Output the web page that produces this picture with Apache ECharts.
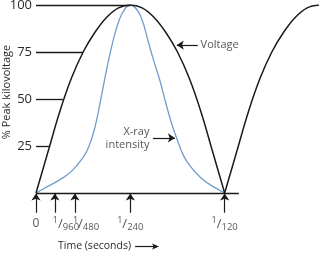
<!DOCTYPE html>
<html><head><meta charset="utf-8">
<script src="https://cdn.jsdelivr.net/npm/echarts@6/dist/echarts.min.js"></script>
<style>html,body{margin:0;padding:0;background:#fff}#c{width:319px;height:254px}</style>
</head><body><div id="c"></div>
<script>
// time in units of 1/960 s
const timeX   = [0,0.5,1,1.5,2,2.5,3,3.5,4,4.5,5,5.5,6,6.5,7,7.5,8,8.5,9,9.5,10,10.5,11,11.5,12];
const voltage = [0,21.5,43,61,75,85.5,93.5,98.5,100,98.5,93.5,85.5,75,61,43,21.5,0,21.5,43,61,75,85.5,93.5,98.5,100];
const xrayX   = [0,0.5,1,1.5,2,2.25,2.5,2.75,3,3.25,3.5,3.75,4,4.25,4.5,4.75,5,5.25,5.5,5.75,6,6.25,6.5,7,7.5,8];
const xray    = [0,3.5,7,11.5,19,25,35,50,66,80,91,97.5,100,98,92,81,70,60,48,37,28,20,15,8,3.5,0];
const yTicks  = [25,50,75,100];
const yTickEnds = [0.57,1.14,2.0,4.0];          // where each level line meets the voltage curve
const tickPos = [0,0.8,1.65,4,8];
const tickNum = ['','1','1','1','1'];
const tickDen = ['0','960','480','240','120'];
const tickAlign = ['center','left','left','center','center'];
const axisEnd = 8.6;
const voltageNote = {from:[6.86,78.7], to:[5.97,78.7], text:'Voltage'};
const xrayNote = {from:[4.96,29.3], to:[5.89,29.3], text:'X-ray\nintensity'};
const yName = '% Peak kilovoltage';
const xName = 'Time (seconds)';

const INK = '#1a1a1a', TXT = '#2a2a2a', BLUE = '#6f9dcc';
const FONT = 'Open Sans';
const pairs = (xs, ys) => xs.map((x,i)=>[x, ys[i]]);

const hump1 = pairs(timeX.slice(0,17), voltage.slice(0,17));
const hump2 = pairs(timeX.slice(16), voltage.slice(16));

const levelLines = yTicks.map((v,i)=>[{coord:[0,v]},{coord:[yTickEnds[i],v]}]);
const tickArrows = tickPos.map(x=>[{coord:[x,-10.5]},{coord:[x,-0.2]}]);
const noteArrows = [voltageNote, xrayNote].map(n=>[{coord:n.from},{coord:n.to}]);

const tickLabelData = tickPos.map((x,i)=>({
  value:[x,-16.5],
  label:{
    formatter: tickNum[i] ? '{sup|'+tickNum[i]+'}{sl|/}{sub|'+tickDen[i]+'}' : '{n|'+tickDen[i]+'}',
    align: tickAlign[i],
    offset: tickAlign[i]==='left' ? [-2,0] : [0,0]
  }
}));

// measure x-axis title to place its arrow right after it
const X_FONT = '10.5px "Open Sans"';
const mctx = document.createElement('canvas').getContext('2d');
mctx.font = X_FONT;
const xNameW = mctx.measureText(xName).width;
const xNameLeft = 58, xNameY = 246.5;
const arrX1 = xNameLeft + xNameW + 4, arrX2 = arrX1 + 24;

const chart = echarts.init(document.getElementById('c'), null, {renderer:'canvas'});
chart.setOption({
  animation:false,
  grid:{left:36, right:0, top:5, bottom:14, outerBoundsMode:'none', containLabel:false},
  xAxis:{type:'value', min:0, max:12, show:false},
  yAxis:{type:'value', min:-25, max:100, interval:25,
    axisLine:{show:false}, axisTick:{show:false}, splitLine:{show:false},
    axisLabel:{margin:4, color:TXT, fontFamily:FONT, fontSize:13,
      formatter:v=> v>0 ? String(v) : ''}
  },
  series:[
    {type:'line', data:pairs(xrayX, xray), smooth:0.5, symbol:'none',
      lineStyle:{color:BLUE, width:1.3}, z:2},
    {type:'line', data:hump1, smooth:0.4, symbol:'none',
      lineStyle:{color:INK, width:1.5}, z:3,
      markLine:{silent:true, symbol:['none','none'], label:{show:false},
        lineStyle:{color:INK, width:1.3, type:'solid'},
        data: levelLines.concat([[{coord:[0,0]},{coord:[axisEnd,0]}]])}
    },
    {type:'line', data:hump2, smooth:0.4, symbol:'none',
      lineStyle:{color:INK, width:1.5}, z:3,
      markLine:{silent:true, symbol:['none','arrow'], symbolSize:7, label:{show:false},
        lineStyle:{color:INK, width:1.2, type:'solid'},
        data: tickArrows.concat(noteArrows)}
    },
    {type:'scatter', data:tickLabelData, symbolSize:1, itemStyle:{color:'transparent'}, silent:true, clip:false,
      label:{show:true, position:'inside', color:TXT, fontFamily:FONT,
        rich:{
          n:{fontSize:12, fontFamily:FONT, color:TXT, lineHeight:16},
          sup:{fontSize:9, fontFamily:FONT, color:TXT, verticalAlign:'top', lineHeight:10},
          sl:{fontSize:13, fontFamily:FONT, color:TXT, lineHeight:16},
          sub:{fontSize:9.5, fontFamily:FONT, color:TXT, verticalAlign:'bottom', lineHeight:10}
        }}
    },
    {type:'scatter', symbolSize:1, itemStyle:{color:'transparent'}, silent:true, clip:false,
      data:[
        {value:[voltageNote.from[0]+0.12, voltageNote.from[1]], label:{formatter:voltageNote.text, align:'left'}},
        {value:[xrayNote.from[0]-0.15, xrayNote.from[1]], label:{formatter:xrayNote.text, align:'right'}}
      ],
      label:{show:true, position:'inside', color:TXT, fontFamily:FONT, fontSize:11, lineHeight:13}
    }
  ],
  graphic:[
    {type:'text', x:7, y:92, rotation:Math.PI/2,
      style:{text:yName, fill:TXT, font:'11px "Open Sans"', align:'center', verticalAlign:'middle'}},
    {type:'text', x:xNameLeft, y:xNameY,
      style:{text:xName, fill:TXT, font:X_FONT, align:'left', verticalAlign:'middle'}},
    {type:'line', shape:{x1:arrX1, y1:xNameY, x2:arrX2-4, y2:xNameY}, style:{stroke:INK, lineWidth:1.2}},
    {type:'polygon', shape:{points:[[arrX2,xNameY],[arrX2-7,xNameY-3],[arrX2-5.5,xNameY],[arrX2-7,xNameY+3]]}, style:{fill:INK}}
  ]
});
</script></body></html>
